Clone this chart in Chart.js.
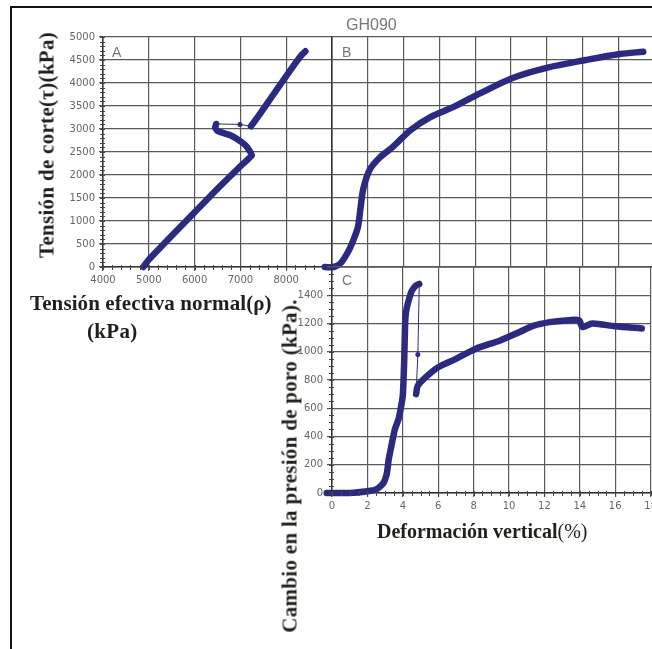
<!DOCTYPE html>
<html lang="es">
<head>
<meta charset="UTF-8">
<title>GH090</title>
<style>
    html, body { margin: 0; padding: 0; background: #fff; width: 652px; height: 649px; overflow: hidden; }
    .frame { position: absolute; left: 10px; top: 6px; width: 760px; height: 760px; border-top: 2px solid #111; border-left: 2px solid #111; }
    canvas { position: absolute; }
    .lbl { position: absolute; font-family: "Liberation Serif", "Times New Roman", serif; font-weight: bold; font-size: 21px; letter-spacing: 0.3px; color: #231f1a; white-space: nowrap; }
    .rot { transform: translate(-50%, -50%) rotate(-90deg); }
    .tag { position: absolute; font-family: "Liberation Sans", Arial, sans-serif; color: #777; white-space: nowrap; }
    .thin { font-weight: normal; }
</style>
</head>
<body>
    <div class="frame"></div>

    <canvas id="chartA" width="340" height="300" style="left:0;top:0"></canvas>
    <canvas id="chartB" width="340" height="300" style="left:320px;top:0"></canvas>
    <canvas id="chartC" width="420" height="320" style="left:240px;top:250px"></canvas>

    <div class="tag" style="left:346px;top:16px;font-size:16px">GH090</div>
    <div class="tag" style="left:112px;top:44px;font-size:14px">A</div>
    <div class="tag" style="left:342px;top:44px;font-size:14px">B</div>
    <div class="tag" style="left:342px;top:272px;font-size:14px">C</div>

    <div class="lbl rot" style="left:47px;top:145px">Tensión de corte(τ)(kPa)</div>
    <div class="lbl" style="left:30px;top:291px;letter-spacing:0.1px">Tensión efectiva normal(ρ)</div>
    <div class="lbl" style="left:87px;top:319px">(kPa)</div>
    <div class="lbl rot" style="left:290px;top:466px">Cambio en la presión de poro (kPa).</div>
    <div class="lbl" style="left:377px;top:520px;font-size:20px;letter-spacing:0">Deformación vertical<span class="thin">(%)</span></div>

    <script src="https://cdn.jsdelivr.net/npm/chart.js@4.4.0/dist/chart.umd.min.js"></script>
    <script>
        // A: tension normal efectiva vs tension de corte
        var aBranchNormal = [4880, 5000, 5500, 6000, 6500, 7000, 7250, 7150, 7060, 6900, 6770, 6600, 6500, 6450, 6470];
        var aBranchShear  = [0, 160, 680, 1190, 1700, 2190, 2430, 2600, 2690, 2800, 2870, 2920, 2960, 3030, 3110];
        var aGapNormal = [6470, 6990, 7230];
        var aGapShear  = [3110, 3100, 3060];
        var aUpperNormal = [7230, 7400, 7560, 7790, 8000, 8200, 8330, 8420];
        var aUpperShear  = [3060, 3290, 3520, 3850, 4150, 4430, 4600, 4690];

        // B: deformacion vertical vs tension de corte
        var bStrain = [-0.4, 0.1, 0.5, 0.9, 1.2, 1.45, 1.6, 1.75, 2.1, 2.7, 3.4, 4.4, 5.5, 6.8, 8.3, 10.1, 12.0, 14.2, 16.1, 17.4];
        var bShear  = [0, 0, 90, 330, 590, 870, 1300, 1700, 2110, 2390, 2610, 2980, 3260, 3480, 3780, 4110, 4330, 4500, 4630, 4680];

        // C: deformacion vertical vs cambio en la presion de poro
        var cRiseStrain = [-0.3, 1.0, 2.0, 2.5, 2.9, 3.1, 3.2, 3.35, 3.55, 3.75, 3.9, 4.0, 4.08, 4.13, 4.18, 4.3, 4.5, 4.75, 4.93];
        var cRisePore   = [0, 0, 12, 25, 70, 140, 235, 330, 450, 520, 610, 690, 940, 1200, 1280, 1350, 1430, 1470, 1480];
        var cDropStrain = [4.93, 4.85, 4.75];
        var cDropPore   = [1480, 980, 700];
        var cPostStrain = [4.75, 4.85, 5.3, 6.0, 7.0, 8.1, 9.5, 10.6, 11.4, 12.3, 13.2, 13.95, 14.15, 14.7, 16.0, 17.5];
        var cPostPore   = [700, 760, 820, 890, 950, 1020, 1080, 1140, 1185, 1210, 1222, 1222, 1175, 1200, 1180, 1165];

        var normalTicks = [4000, 5000, 6000, 7000, 8000, 9000];
        var shearTicks = [0, 500, 1000, 1500, 2000, 2500, 3000, 3500, 4000, 4500, 5000];
        var strainTicks = [0, 2, 4, 6, 8, 10, 12, 14, 16, 18];
        var poreTicks = [0, 200, 400, 600, 800, 1000, 1200, 1400, 1600];

        var navy = '#2c2a80';
        var gridColor = '#5a5a5a';
        var tickFont = { family: '"DejaVu Sans", Verdana, sans-serif', size: 10 };

        function pairs(xs, ys) {
            return xs.map(function (x, i) { return { x: x, y: ys[i] }; });
        }

        function trail(xs, ys, tension) {
            return {
                data: pairs(xs, ys),
                showLine: true,
                borderColor: navy,
                borderWidth: 6.5,
                borderCapStyle: 'round',
                borderJoinStyle: 'round',
                pointRadius: 0,
                tension: tension,
                clip: false
            };
        }

        function sparse(xs, ys, radii) {
            return {
                data: pairs(xs, ys),
                showLine: true,
                borderColor: navy,
                backgroundColor: navy,
                borderWidth: 1,
                pointRadius: radii,
                pointBorderWidth: 0,
                clip: false
            };
        }

        function axis(values, opts) {
            var hideLast = opts.hideLast;
            return {
                type: 'linear',
                min: values[0],
                max: values[values.length - 1],
                afterBuildTicks: function (s) {
                    s.ticks = values.map(function (v) { return { value: v }; });
                },
                ticks: {
                    display: opts.labels,
                    autoSkip: false,
                    maxRotation: 0,
                    font: tickFont,
                    color: '#666',
                    padding: opts.pad || 3,
                    callback: function (v) {
                        if (hideLast && v === values[values.length - 1]) return '';
                        return String(v);
                    }
                },
                grid: { color: gridColor, lineWidth: 1.2, drawTicks: opts.labels, tickLength: opts.tick || 4 },
                border: { color: '#333', width: 1.5 },
                afterFit: function (s) {
                    if (s.isHorizontal()) s.height = opts.size; else s.width = opts.size;
                }
            };
        }

        // small ticks between the labelled ones
        var minorTicks = {
            id: 'minorTicks',
            afterDraw: function (chart, args, opts) {
                var ctx = chart.ctx;
                ctx.save();
                ctx.strokeStyle = '#444';
                ctx.lineWidth = 1;
                (opts.axes || []).forEach(function (a) {
                    var s = chart.scales[a.id];
                    for (var v = s.min; v <= s.max + 1e-9; v += a.step) {
                        var p = Math.round(s.getPixelForValue(v)) + 0.5;
                        ctx.beginPath();
                        if (s.isHorizontal()) {
                            ctx.moveTo(p, s.top - 2);
                            ctx.lineTo(p, s.top + 3);
                        } else {
                            ctx.moveTo(s.right - 3, p);
                            ctx.lineTo(s.right + 2, p);
                        }
                        ctx.stroke();
                    }
                });
                ctx.restore();
            }
        };

        function baseOptions(padding, scales, minor) {
            return {
                responsive: false,
                animation: false,
                layout: { padding: padding },
                plugins: { legend: { display: false }, tooltip: { enabled: false }, minorTicks: { axes: minor } },
                scales: scales
            };
        }

        function createChartA() {
            new Chart(document.getElementById('chartA'), {
                type: 'scatter',
                data: {
                    datasets: [
                        trail(aBranchNormal, aBranchShear, 0.15),
                        sparse(aGapNormal, aGapShear, [0, 2.5, 0]),
                        trail(aUpperNormal, aUpperShear, 0.1)
                    ]
                },
                options: baseOptions({ left: 0, right: 8, top: 37, bottom: 0 }, {
                    x: axis(normalTicks, { labels: true, size: 33, hideLast: true }),
                    y: axis(shearTicks, { labels: true, size: 103, pad: 4 })
                }, [{ id: 'x', step: 200 }, { id: 'y', step: 100 }]),
                plugins: [minorTicks]
            });
        }

        function createChartB() {
            new Chart(document.getElementById('chartB'), {
                type: 'scatter',
                data: { datasets: [trail(bStrain, bShear, 0.3)] },
                options: baseOptions({ left: 0, right: 6, top: 37, bottom: 0 }, {
                    x: axis(strainTicks, { labels: false, size: 33 }),
                    y: axis(shearTicks, { labels: false, size: 12 })
                }, []),
                plugins: [minorTicks]
            });
        }

        function createChartC() {
            new Chart(document.getElementById('chartC'), {
                type: 'scatter',
                data: {
                    datasets: [
                        trail(cRiseStrain, cRisePore, 0.2),
                        sparse(cDropStrain, cDropPore, [0, 2.5, 0]),
                        trail(cPostStrain, cPostPore, 0.3)
                    ]
                },
                options: baseOptions({ left: 0, right: 6, top: 17, bottom: 0 }, {
                    x: axis(strainTicks, { labels: true, size: 77 }),
                    y: axis(poreTicks, { labels: true, size: 92, hideLast: true, tick: 5, pad: 4 })
                }, [{ id: 'x', step: 0.5 }, { id: 'y', step: 50 }]),
                plugins: [minorTicks]
            });
        }

        createChartA();
        createChartB();
        createChartC();
    </script>
</body>
</html>
